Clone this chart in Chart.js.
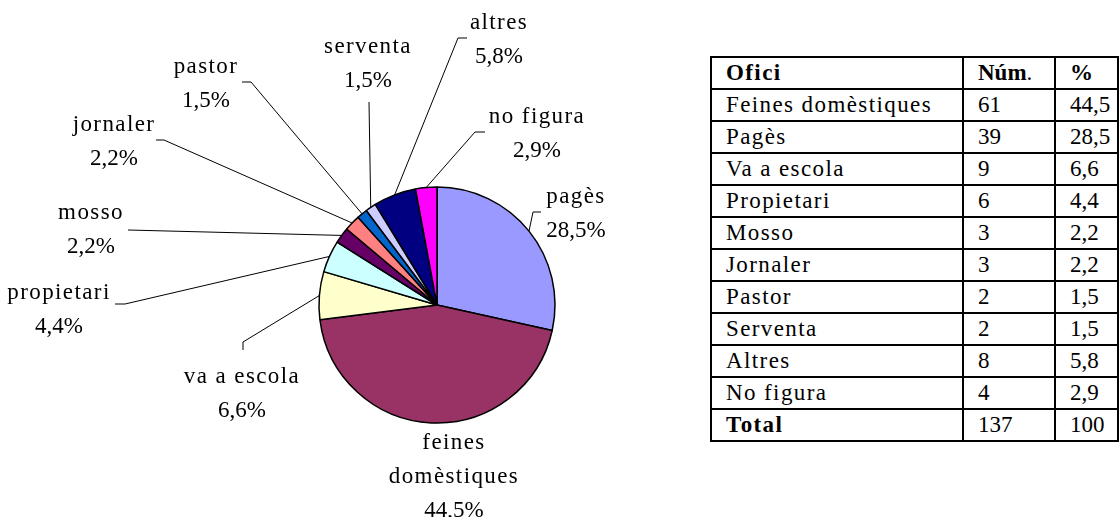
<!DOCTYPE html>
<html>
<head>
<meta charset="utf-8">
<script src="https://cdn.jsdelivr.net/npm/chart.js@4/dist/chart.umd.min.js"></script>
<style>
  html, body { margin: 0; padding: 0; background: #fff; }
  body { width: 1120px; height: 517px; position: relative; overflow: hidden; }
  #wrap { position: absolute; left: 0; top: 0; width: 700px; height: 517px; }
  #oficis {
    position: absolute; left: 710px; top: 56px;
    border-collapse: collapse; table-layout: fixed;
    font-family: "Liberation Serif", Tinos, "Times New Roman", "DejaVu Serif", serif; font-size: 23px; color: #000;
  }
  #oficis td { border: 2px solid #000; height: 30px; padding: 0 0 0 14px; line-height: 30px; white-space: nowrap; }
  #oficis td.nom { letter-spacing: 1.4px; }
  #oficis b { font-weight: bold; }
</style>
</head>
<body>
<div id="wrap"><canvas id="pie"></canvas></div>
<table id="oficis">
  <colgroup><col style="width:252px"><col style="width:92px"><col style="width:63px"></colgroup>
  <tbody id="tbody"></tbody>
</table>
<script>
// pie data, clockwise from the top
var pieLabels = [['pagès'], ['feines', 'domèstiques'], ['va a escola'], ['propietari'], ['mosso'],
  ['jornaler'], ['pastor'], ['serventa'], ['altres'], ['no figura']];
var pieCounts = [39, 61, 9, 6, 3, 3, 2, 2, 8, 4];
var piePercents = [28.5, 44.5, 6.6, 4.4, 2.2, 2.2, 1.5, 1.5, 5.8, 2.9];
var pieColors = ['#9999FF', '#993366', '#FFFFCC', '#CCFFFF', '#660066',
  '#FF8080', '#0066CC', '#CCCCFF', '#000080', '#FF00FF'];

// table data
var tableNames = ['Feines domèstiques', 'Pagès', 'Va a escola', 'Propietari', 'Mosso',
  'Jornaler', 'Pastor', 'Serventa', 'Altres', 'No figura'];
var tableCounts = [61, 39, 9, 6, 3, 3, 2, 2, 8, 4];
var tablePercents = ['44,5', '28,5', '6,6', '4,4', '2,2', '2,2', '1,5', '1,5', '5,8', '2,9'];
var tableTotal = { count: 137, percent: '100' };

// where each label sits (canvas px) and the bends of its leader line
var labelLayout = [
  { x: 576, y: 197, bends: [[533, 212], [541, 212]] },
  { x: 454, y: 443, bends: null },
  { x: 242, y: 377, bends: [[243, 342], [243, 350]] },
  { x: 59, y: 293, bends: [[125, 304], [115, 304]] },
  { x: 91, y: 213, bends: [[128, 230]] },
  { x: 114, y: 125, bends: [[164, 140], [156, 140]] },
  { x: 206, y: 67, bends: [[251, 82], [242, 82]] },
  { x: 368, y: 47, bends: [[369, 102]] },
  { x: 499, y: 23, bends: [[458, 38], [467, 38]] },
  { x: 537, y: 117, bends: [[475, 132], [485, 132]] }
];
var LINE_STEP = 34;
var FONT = '23px "Liberation Serif", Tinos, "Times New Roman", "DejaVu Serif", serif';

function fmtPct(v) { return v.toFixed(1).replace('.', ',') + '%'; }

// build the table
var tb = document.getElementById('tbody');
var html = '<tr><td class="nom"><b>Ofici</b></td><td><b>Núm</b>.</td><td><b>%</b></td></tr>';
tableNames.forEach(function(n, i) {
  html += '<tr><td class="nom">' + n + '</td><td>' + tableCounts[i] + '</td><td>' + tablePercents[i] + '</td></tr>';
});
html += '<tr><td class="nom"><b>Total</b></td><td>' + tableTotal.count + '</td><td>' + tableTotal.percent + '</td></tr>';
tb.innerHTML = html;

var leaderLabels = {
  id: 'leaderLabels',
  afterDatasetsDraw: function(chart) {
    var ctx = chart.ctx;
    var arcs = chart.getDatasetMeta(0).data;
    ctx.save();
    ctx.strokeStyle = '#000';
    ctx.lineWidth = 1;
    arcs.forEach(function(arc, i) {
      var lay = labelLayout[i];
      var p = arc.getProps(['x', 'y', 'startAngle', 'endAngle', 'outerRadius'], true);
      var mid = (p.startAngle + p.endAngle) / 2;
      if (lay.bends) {
        ctx.beginPath();
        ctx.moveTo(p.x + Math.cos(mid) * p.outerRadius, p.y + Math.sin(mid) * p.outerRadius);
        lay.bends.forEach(function(b) { ctx.lineTo(b[0], b[1]); });
        ctx.stroke();
      }
      ctx.fillStyle = '#000';
      ctx.textAlign = 'center';
      ctx.textBaseline = 'middle';
      ctx.font = FONT;
      var lines = pieLabels[i];
      ctx.letterSpacing = '1.4px';
      lines.forEach(function(t, k) { ctx.fillText(t, lay.x, lay.y + k * LINE_STEP); });
      ctx.letterSpacing = '0px';
      ctx.fillText(fmtPct(piePercents[i]), lay.x, lay.y + lines.length * LINE_STEP);
    });
    ctx.restore();
  }
};

new Chart(document.getElementById('pie'), {
  type: 'pie',
  data: {
    labels: pieLabels.map(function(l) { return l.join(' '); }),
    datasets: [{
      data: pieCounts,
      backgroundColor: pieColors,
      borderColor: '#000',
      borderWidth: 1.5,
      radius: 118
    }]
  },
  options: {
    responsive: true,
    maintainAspectRatio: false,
    animation: false,
    layout: { padding: { left: 174, right: 0, top: 93, bottom: 0 } },
    plugins: { legend: { display: false }, tooltip: { enabled: false } }
  },
  plugins: [leaderLabels]
});
</script>
</body>
</html>
